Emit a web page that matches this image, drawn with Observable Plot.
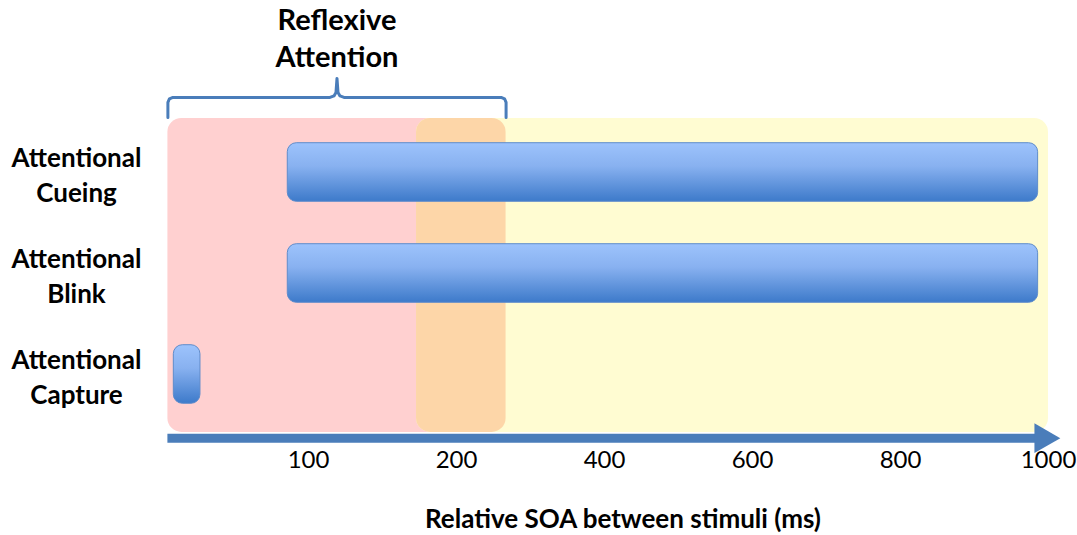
<!DOCTYPE html>
<html>
<head>
<meta charset="utf-8">
<script src="https://cdn.jsdelivr.net/npm/d3@7"></script>
<script src="https://cdn.jsdelivr.net/npm/@observablehq/plot@0.6"></script>
<style>
  html, body { margin: 0; padding: 0; background: #fff; }
  svg { display: block; }
</style>
</head>
<body>
<div id="chart"></div>
<script>
// ---- data ----
const categories = ["Attentional\nCueing", "Attentional\nBlink", "Attentional\nCapture"];
const barStarts = [86, 86, 9];
const barEnds = [986, 986, 27];

const tickValues = [100, 200, 400, 600, 800, 1000];
const axisBreaks = [0, 100, 200, 400, 600, 800, 1000];

const regionNames = ["Reflexive", "Voluntary"];
const regionStarts = [5, 173];
const regionEnds = [267, 1000];
const regionColors = ["#FFD0D0", "#FFFCD2"];
const overlapColor = "#FDD6A8";

const arrowStart = 5;
const arrowEnd = 1016;

const bracketLabel = "Reflexive\nAttention";
const axisTitle = "Relative SOA between stimuli (ms)";

// ---- layout ----
const width = 1077, height = 535;
const x0 = 160, xStep = 148;
const xOpts = {type: "linear", domain: axisBreaks, range: axisBreaks.map((d, i) => x0 + i * xStep)};
const yOpts = {type: "linear", domain: [0, 2], range: [172, 374], axis: null};
// mirrors of the plot scales, used only to convert pixel offsets of the bracket shape
const xs = d3.scaleLinear(xOpts.domain, xOpts.range);
const ys = d3.scaleLinear(yOpts.domain, yOpts.range);

const bgTop = -0.535, bgBottom = 2.574;
const barHalf = 0.29;
const arrowY = 2.63;

const bars = categories.map((c, i) => ({c, i, x1: barStarts[i], x2: barEnds[i]}));
const regions = regionNames.map((n, i) => ({n, x1: regionStarts[i], x2: regionEnds[i]}));
const overlap = [{x1: regionStarts[1], x2: regionEnds[0]}];

// curly bracket over the reflexive region
const L = xs(regionStarts[0]), R = xs(regionEnds[0]), M = (L + R) / 2;
const yBase = ys(bgTop) - 1, yBar = yBase - 20, ySpike = yBar - 19;
const bracePx = [
  [L, yBase], [L, yBar + 5], [L + 1.5, yBar + 1.5], [L + 5, yBar],
  [M - 7, yBar], [M - 3, yBar - 1.5], [M - 1, yBar - 5], [M, ySpike],
  [M + 1, yBar - 5], [M + 3, yBar - 1.5], [M + 7, yBar],
  [R - 5, yBar], [R - 1.5, yBar + 1.5], [R, yBar + 5], [R, yBase]
];
const brace = bracePx.map(([px, py]) => ({x: xs.invert(px), y: ys.invert(py)}));
const braceMid = xs.invert(M);

const chart = Plot.plot({
  width, height,
  marginLeft: 167, marginRight: 17, marginTop: 118, marginBottom: 89,
  x: xOpts,
  y: yOpts,
  style: {fontFamily: "Lato, 'Open Sans', sans-serif", color: "#000", background: "#fff"},
  marks: [
    Plot.rect([regions[0]], {x1: "x1", x2: "x2", y1: bgTop, y2: bgBottom, fill: regionColors[0], rx: 14}),
    Plot.rect([regions[1]], {x1: "x1", x2: "x2", y1: bgTop, y2: bgBottom, fill: regionColors[1], rx: 14}),
    Plot.rect(overlap, {x1: "x1", x2: "x2", y1: bgTop, y2: bgBottom, fill: overlapColor, rx: 14}),
    Plot.ruleY([arrowY], {x1: arrowStart, x2: 995, stroke: "#4A7DBA", strokeWidth: 9}),
    Plot.dot([arrowEnd], {x: d => d, y: arrowY, symbol: "triangle", r: 11.1, rotate: 90, dx: -17.3, fill: "#4A7DBA", stroke: "none"}),
    Plot.rect(bars, {x1: "x1", x2: "x2", y1: d => d.i - barHalf, y2: d => d.i + barHalf,
      fill: "url(#barGrad)", stroke: "#5E8CCB", strokeWidth: 1, rx: 9, ariaLabel: "bars"}),
    Plot.text(categories, {y: (d, i) => i, frameAnchor: "left", dx: -91, dy: 1, textAnchor: "middle",
      fontSize: 26, fontWeight: "bold", lineHeight: 1.35}),
    Plot.line(brace, {x: "x", y: "y", stroke: "#4A7DBA", strokeWidth: 3, strokeLinejoin: "round", strokeLinecap: "round"}),
    Plot.text([bracketLabel], {x: braceMid, y: ys.invert(36), textAnchor: "middle", fontSize: 29, fontWeight: "bold", lineHeight: 1.28}),
    Plot.axisX(tickValues, {anchor: "bottom", tickSize: 0, tickPadding: 4, fontSize: 24, label: null, tickFormat: d => `${d}`}),
    Plot.text([axisTitle], {frameAnchor: "bottom", dy: 73, dx: 9, lineAnchor: "middle", fontSize: 26, fontWeight: "bold"})
  ]
});

const svg = d3.select(chart);
const defs = svg.insert("defs", ":first-child");
const grad = defs.append("linearGradient").attr("id", "barGrad").attr("x1", 0).attr("y1", 0).attr("x2", 0).attr("y2", 1);
grad.append("stop").attr("offset", "0%").attr("stop-color", "#9DC3FC");
grad.append("stop").attr("offset", "40%").attr("stop-color", "#88B1F0");
grad.append("stop").attr("offset", "100%").attr("stop-color", "#3D7ACA");
const filt = defs.append("filter").attr("id", "barShadow").attr("x", "-10%").attr("y", "-20%").attr("width", "130%").attr("height", "160%");
filt.append("feDropShadow").attr("dx", 1.5).attr("dy", 2.5).attr("stdDeviation", 1.6)
  .attr("flood-color", "#6b4a2a").attr("flood-opacity", 0.35);
svg.selectAll('g[aria-label="bars"]').attr("filter", "url(#barShadow)");

document.getElementById("chart").appendChild(chart);
</script>
</body>
</html>
